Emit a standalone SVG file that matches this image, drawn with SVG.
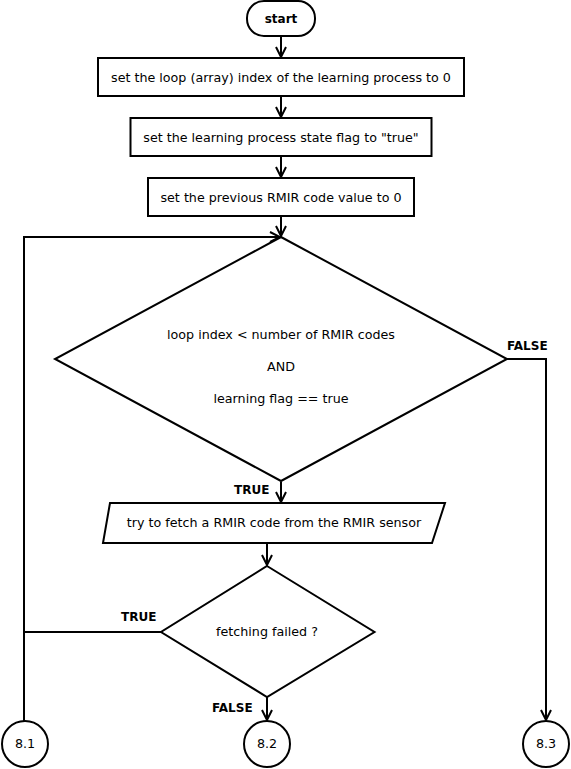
<svg xmlns="http://www.w3.org/2000/svg" width="571" height="769" viewBox="0 0 571 769">
<style>
.s{fill:#fff;stroke:#000;stroke-width:2}
.t{font-family:"DejaVu Sans",sans-serif;font-size:12.7px;fill:#000;text-anchor:middle}
.b{font-family:"DejaVu Sans",sans-serif;font-size:12px;font-weight:bold;fill:#000}
.c{fill:none;stroke:#000;stroke-width:2}
</style>
<defs>
<marker id="a" viewBox="0 0 12 12" refX="11" refY="6" markerWidth="12" markerHeight="12" markerUnits="userSpaceOnUse" orient="auto">
<path d="M1,1 L11,6 L1,11" fill="none" stroke="#000" stroke-width="2"/>
</marker>
</defs>
<rect width="571" height="769" fill="#fff"/>
<g id="connectors">
<path class="c" d="M281,36 V57" marker-end="url(#a)"/>
<path class="c" d="M281,96 V117" marker-end="url(#a)"/>
<path class="c" d="M281,156 V177" marker-end="url(#a)"/>
<path class="c" d="M281,216 V236" marker-end="url(#a)"/>
<path class="c" d="M161,632 H24 V721"/>
<path class="c" d="M24,632 V237 H280" marker-end="url(#a)"/>
<path class="c" d="M507,359 H546 V720" marker-end="url(#a)"/>
<path class="c" d="M281,482 V502" marker-end="url(#a)"/>
<path class="c" d="M267,543 V565" marker-end="url(#a)"/>
<path class="c" d="M267,697 V720" marker-end="url(#a)"/>
<text class="b" x="507" y="350">FALSE</text>
<text class="b" x="234" y="494">TRUE</text>
<text class="b" x="121" y="621">TRUE</text>
<text class="b" x="212" y="712">FALSE</text>
</g>
<g id="start">
<rect class="s" x="247" y="1" width="68" height="35" rx="17" ry="17"/>
<text class="b" x="281" y="22.5" text-anchor="middle">start</text>
</g>
<g id="init-index">
<rect class="s" x="98" y="58" width="366" height="38"/>
<text class="t" x="281" y="81.5">set the loop (array) index of the learning process to 0</text>
</g>
<g id="init-flag">
<rect class="s" x="130.5" y="118" width="301" height="38"/>
<text class="t" x="281" y="141.5">set the learning process state flag to "true"</text>
</g>
<g id="init-prev">
<rect class="s" x="148" y="178" width="266" height="38"/>
<text class="t" x="281" y="201.5">set the previous RMIR code value to 0</text>
</g>
<g id="loop-cond">
<polygon class="s" points="281,237 507,359 281,481 55,359"/>
<text class="t" x="281" y="338.5">loop index &lt; number of RMIR codes</text>
<text class="t" x="281" y="370.5">AND</text>
<text class="t" x="281" y="402.5">learning flag == true</text>
</g>
<g id="fetch">
<polygon class="s" points="110,503 445,503 432,543 103,543"/>
<text class="t" x="274" y="527">try to fetch a RMIR code from the RMIR sensor</text>
</g>
<g id="fetch-failed">
<polygon class="s" points="267,566 374.5,632 267,697 161,632"/>
<text class="t" x="267" y="636">fetching failed ?</text>
</g>
<g id="c81">
<circle class="s" cx="25" cy="744" r="23"/>
<text class="t" x="25" y="748">8.1</text>
</g>
<g id="c82">
<circle class="s" cx="267" cy="744" r="23"/>
<text class="t" x="267" y="748">8.2</text>
</g>
<g id="c83">
<circle class="s" cx="546" cy="744" r="23"/>
<text class="t" x="546" y="748">8.3</text>
</g>
</svg>
